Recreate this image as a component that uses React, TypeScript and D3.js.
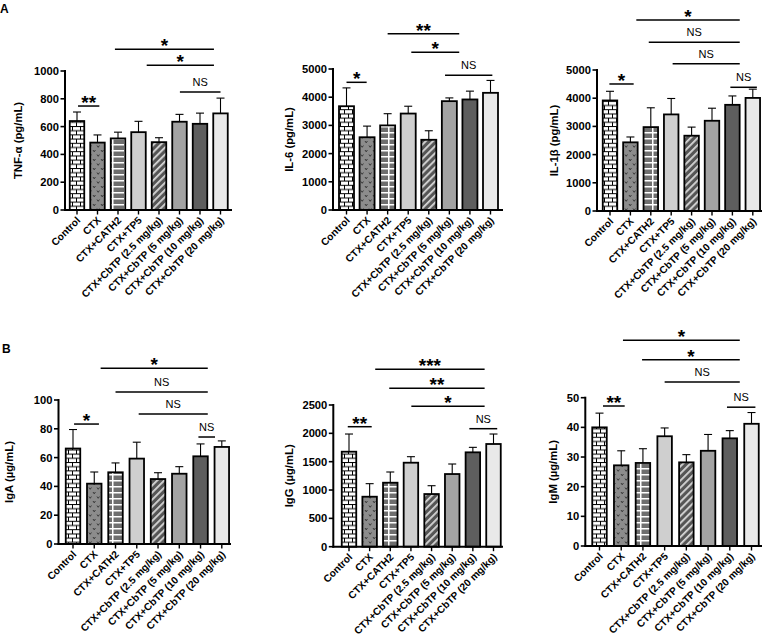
import React from "react";
import * as d3 from "d3";

const categories = [
  "Control",
  "CTX",
  "CTX+CATH2",
  "CTX+TP5",
  "CTX+CbTP (2.5 mg/kg)",
  "CTX+CbTP (5 mg/kg)",
  "CTX+CbTP (10 mg/kg)",
  "CTX+CbTP (20 mg/kg)",
];

const tnfMean = [640, 485, 515, 560, 488, 635, 620, 695];
const tnfSd = [65, 55, 45, 78, 32, 53, 77, 110];
const il6Mean = [3680, 2580, 3000, 3420, 2490, 3860, 3920, 4155];
const il6Sd = [650, 395, 415, 260, 320, 115, 295, 440];
const il1Mean = [3920, 2435, 2975, 3425, 2670, 3200, 3765, 4010];
const il1Sd = [325, 190, 685, 565, 305, 445, 315, 310];
const igaMean = [66.3, 41.9, 49.8, 59.3, 45.1, 48.8, 60.9, 67.4];
const igaSd = [13.2, 8.1, 6.5, 11.4, 4.4, 4.9, 8.6, 4.2];
const iggMean = [1676, 882, 1129, 1482, 929, 1282, 1665, 1812];
const iggSd = [312, 230, 189, 106, 147, 177, 88, 176];
const igmMean = [40, 27.2, 28, 37, 28.2, 32.1, 36.3, 41.2];
const igmSd = [4.8, 4.9, 4.8, 2.8, 2.6, 5.5, 2.6, 3.8];

const tnfTicks = [0, 200, 400, 600, 800, 1000];
const il6Ticks = [0, 1000, 2000, 3000, 4000, 5000];
const il1Ticks = [0, 1000, 2000, 3000, 4000, 5000];
const igaTicks = [0, 20, 40, 60, 80, 100];
const iggTicks = [0, 500, 1000, 1500, 2000, 2500];
const igmTicks = [0, 10, 20, 30, 40, 50];

// significance brackets: [fromIndex, toIndex, level (data units), label]
const tnfSig: [number, number, number, string][] = [
  [0.05, 1.09, 748, "**"],
  [1.85, 6.68, 1156, "*"],
  [3.4, 6.68, 1041, "*"],
  [5.02, 7.0, 849, "NS"],
];
const il6Sig: [number, number, number, string][] = [
  [0, 0.98, 4528, "*"],
  [2.0, 5.48, 6252, "**"],
  [3.15, 5.48, 5592, "*"],
  [4.79, 7.09, 4777, "NS"],
];
const il1Sig: [number, number, number, string][] = [
  [-0.03, 1.16, 4504, "*"],
  [1.29, 6.36, 6773, "*"],
  [1.9, 6.36, 5982, "NS"],
  [3.07, 6.36, 5223, "NS"],
  [5.9, 7.2, 4387, "NS"],
];
const igaSig: [number, number, number, string][] = [
  [0.05, 1.22, 83.3, "*"],
  [1.3, 6.34, 122, "*"],
  [2.0, 6.34, 105.6, "NS"],
  [3.09, 6.34, 90.3, "NS"],
  [5.9, 6.68, 74.3, "NS"],
];
const iggSig: [number, number, number, string][] = [
  [-0.06, 1.1, 2117, "**"],
  [1.27, 6.57, 3130, "***"],
  [1.95, 6.57, 2795, "**"],
  [3.02, 6.57, 2477, "*"],
  [5.83, 7.18, 2082, "NS"],
];
const igmSig: [number, number, number, string][] = [
  [0.16, 1.16, 47.2, "**"],
  [1.08, 6.46, 69.4, "*"],
  [1.96, 6.46, 62.8, "*"],
  [3.0, 6.46, 55.3, "NS"],
  [5.87, 7.18, 46.8, "NS"],
];

const fills = [
  "url(#brick)",
  "url(#vmark)",
  "url(#cath)",
  "#cfcfcf",
  "url(#diag)",
  "#a3a3a3",
  "#5e5e5e",
  "#e9e9e9",
];

const FONT = "'Liberation Sans', Arial, Helvetica, sans-serif";

type PanelSpec = {
  title: string;
  mean: number[];
  sd: number[];
  ticks: number[];
  sig: [number, number, number, string][];
  axisX: number;
  axisEnd: number;
  y0: number;
  yTop: number;
  c0: number;
  c7: number;
  bw: number;
  titleX: number;
};

const panels: PanelSpec[] = [
  { title: "TNF-α (pg/mL)", mean: tnfMean, sd: tnfSd, ticks: tnfTicks, sig: tnfSig,
    axisX: 65, axisEnd: 232, y0: 210, yTop: 71, c0: 77, c7: 220.5, bw: 14.5, titleX: 18 },
  { title: "IL-6 (pg/mL)", mean: il6Mean, sd: il6Sd, ticks: il6Ticks, sig: il6Sig,
    axisX: 333, axisEnd: 503, y0: 210, yTop: 69, c0: 346.5, c7: 490.5, bw: 15, titleX: 289 },
  { title: "IL-1β (pg/mL)", mean: il1Mean, sd: il1Sd, ticks: il1Ticks, sig: il1Sig,
    axisX: 597, axisEnd: 762, y0: 211, yTop: 70, c0: 610, c7: 752.8, bw: 14.5, titleX: 554 },
  { title: "IgA (µg/mL)", mean: igaMean, sd: igaSd, ticks: igaTicks, sig: igaSig,
    axisX: 58.5, axisEnd: 231, y0: 544, yTop: 400, c0: 73, c7: 221.8, bw: 14.5, titleX: 8.5 },
  { title: "IgG (µg/mL)", mean: iggMean, sd: iggSd, ticks: iggTicks, sig: iggSig,
    axisX: 333.3, axisEnd: 503, y0: 546.7, yTop: 405, c0: 349, c7: 493.5, bw: 14.5, titleX: 289 },
  { title: "IgM (µg/mL)", mean: igmMean, sd: igmSd, ticks: igmTicks, sig: igmSig,
    axisX: 585.3, axisEnd: 762, y0: 546, yTop: 397.7, c0: 599.5, c7: 751.5, bw: 14.5, titleX: 553 },
];

function Panel({ p }: { p: PanelSpec }) {
  const maxT = p.ticks[p.ticks.length - 1];
  const y = d3.scaleLinear().domain([0, maxT]).range([p.y0, p.yTop]);
  const xi = d3.scaleLinear().domain([0, categories.length - 1]).range([p.c0, p.c7]);
  const midY = (p.y0 + p.yTop) / 2;
  return (
    <g fontFamily={FONT}>
      {/* bars */}
      {p.mean.map((m, i) => {
        const cx = xi(i);
        const top = y(m);
        const errTop = y(m + p.sd[i]);
        return (
          <g key={i}>
            <line x1={cx} x2={cx} y1={top} y2={errTop} stroke="#000" strokeWidth={1.1} />
            <line x1={cx - 4} x2={cx + 4} y1={errTop} y2={errTop} stroke="#000" strokeWidth={1.1} />
            <rect x={cx - p.bw / 2} y={top} width={p.bw} height={p.y0 - top}
              fill={fills[i]} stroke="#000" strokeWidth={1.8} />
          </g>
        );
      })}
      {/* y axis */}
      <line x1={p.axisX} x2={p.axisX} y1={p.y0 + 1} y2={p.yTop - 1} stroke="#000" strokeWidth={2} />
      {p.ticks.map((t) => (
        <g key={t}>
          <line x1={p.axisX - 4.5} x2={p.axisX} y1={y(t)} y2={y(t)} stroke="#000" strokeWidth={1.6} />
          <text x={p.axisX - 6} y={y(t)} dy="0.36em" textAnchor="end" fontSize={11.2} fontWeight="bold">
            {t}
          </text>
        </g>
      ))}
      <text transform={`translate(${p.titleX},${midY}) rotate(-90)`} textAnchor="middle"
        dy="0.36em" fontSize={11.3} fontWeight="bold">
        {p.title}
      </text>
      {/* x axis */}
      <line x1={p.axisX - 1} x2={p.axisEnd} y1={p.y0} y2={p.y0} stroke="#000" strokeWidth={2} />
      {categories.map((c, i) => (
        <g key={c}>
          <line x1={xi(i)} x2={xi(i)} y1={p.y0} y2={p.y0 + 4.5} stroke="#000" strokeWidth={1.4} />
          <text transform={`translate(${xi(i) + 4},${p.y0 + 11}) rotate(-45)`} textAnchor="end"
            fontSize={10.2} fontWeight="bold">
            {c}
          </text>
        </g>
      ))}
      {/* significance */}
      {p.sig.map(([a, b, lvl, lab], k) => {
        const ly = y(lvl);
        const x1 = xi(a);
        const x2 = xi(b);
        const isNS = lab === "NS";
        return (
          <g key={k}>
            <line x1={x1} x2={x2} y1={ly} y2={ly} stroke="#000" strokeWidth={1.5} />
            <text x={(x1 + x2) / 2} y={isNS ? ly - 6 : ly + 3} textAnchor="middle"
              fontSize={isNS ? 11 : 19} fontWeight={isNS ? "normal" : "bold"}>
              {lab}
            </text>
          </g>
        );
      })}
    </g>
  );
}

export default function App() {
  return (
    <svg width={768} height={640} style={{ position: "absolute", left: 0, top: 0, background: "#fff" }}>
      <defs>
        <pattern id="brick" patternUnits="userSpaceOnUse" width={8} height={8.4}>
          <rect width={8} height={8.4} fill="#fff" />
          <line x1={0} x2={8} y1={0.5} y2={0.5} stroke="#000" strokeWidth={1} />
          <line x1={0} x2={8} y1={4.7} y2={4.7} stroke="#000" strokeWidth={1} />
          <line x1={0.5} x2={0.5} y1={0} y2={4.7} stroke="#000" strokeWidth={1} />
          <line x1={4.5} x2={4.5} y1={4.7} y2={8.4} stroke="#000" strokeWidth={1} />
        </pattern>
        <pattern id="vmark" patternUnits="userSpaceOnUse" width={8} height={9}>
          <rect width={8} height={9} fill="#8c8c8c" />
          <path d="M1,1.5 l1.2,1.8 l1.2,-1.8" fill="none" stroke="#222" strokeWidth={0.8} />
          <path d="M5,6 l1.2,1.8 l1.2,-1.8" fill="none" stroke="#222" strokeWidth={0.8} />
        </pattern>
        <pattern id="cath" patternUnits="userSpaceOnUse" width={12} height={6}>
          <rect width={12} height={6} fill="#6e6e6e" />
          <rect x={0} y={0} width={12} height={1.5} fill="#fff" />
          <rect x={4} y={0} width={1.5} height={6} fill="#fff" />
        </pattern>
        <pattern id="diag" patternUnits="userSpaceOnUse" width={5} height={5}
          patternTransform="rotate(45)">
          <rect width={5} height={5} fill="#555" />
          <rect x={0} y={0} width={1.8} height={5} fill="#d8d8d8" />
        </pattern>
      </defs>
      <text x={0} y={12.5} fontFamily={FONT} fontWeight="bold" fontSize={12}>A</text>
      <text x={2} y={352.5} fontFamily={FONT} fontWeight="bold" fontSize={12}>B</text>
      {panels.map((p, i) => (
        <Panel key={i} p={p} />
      ))}
    </svg>
  );
}
